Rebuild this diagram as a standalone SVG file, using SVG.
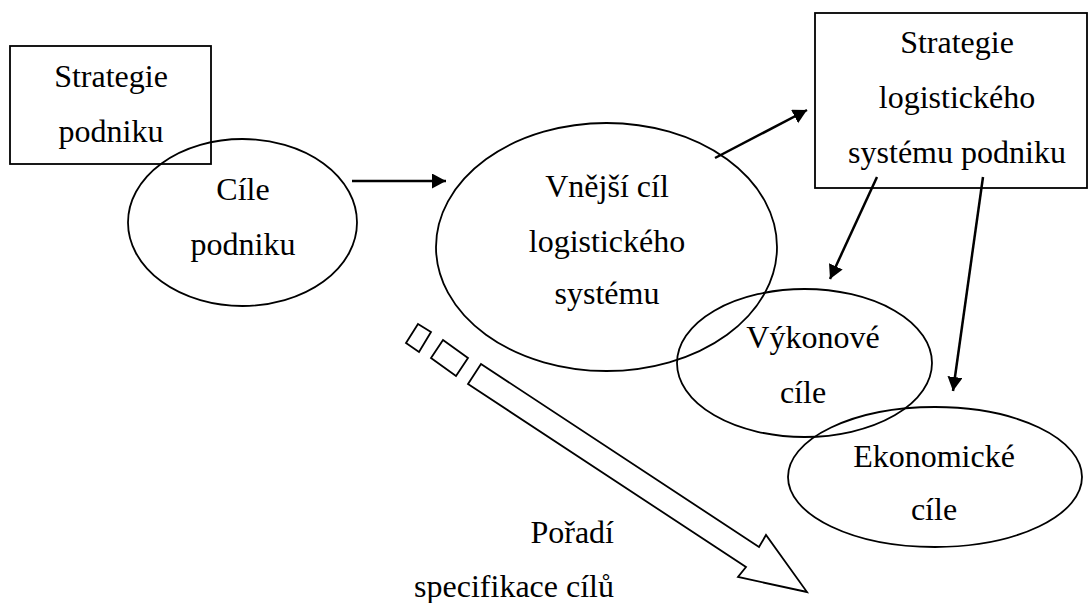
<svg xmlns="http://www.w3.org/2000/svg" width="1090" height="603" viewBox="0 0 1090 603">
<style>
.s{fill:none;stroke:#000;stroke-width:1.8}
.w{fill:#fff;stroke:#000;stroke-width:1.8}
.t{font-family:"Liberation Serif","Times New Roman",serif;font-size:32px;fill:#000;text-anchor:middle}
.c{stroke:#000;stroke-width:2.5;fill:none;marker-end:url(#ah)}
</style>
<defs>
<marker id="ah" markerUnits="userSpaceOnUse" markerWidth="16" markerHeight="16" refX="14" refY="7.5" orient="auto">
<path d="M0,0 L14,7.5 L0,15 z" fill="#000"/>
</marker>
</defs>
<rect width="1090" height="603" fill="#fff"/>
<g id="strategie-podniku">
<rect class="s" x="10" y="46" width="201" height="118"/>
<text class="t" x="111" y="87">Strategie</text>
<text class="t" x="111" y="142">podniku</text>
</g>
<g id="cile-podniku">
<ellipse class="s" cx="242.5" cy="222.5" rx="114.5" ry="83.5"/>
<text class="t" x="243" y="200">Cíle</text>
<text class="t" x="243" y="255">podniku</text>
</g>
<g id="vnejsi-cil">
<ellipse class="s" cx="606.5" cy="247" rx="170.5" ry="124"/>
<text class="t" x="607" y="197">Vnější cíl</text>
<text class="t" x="607" y="252">logistického</text>
<text class="t" x="607" y="304">systému</text>
</g>
<g id="strategie-log">
<rect class="s" x="815" y="13" width="272" height="175"/>
<text class="t" x="957" y="53">Strategie</text>
<text class="t" x="957" y="108">logistického</text>
<text class="t" x="957" y="163">systému podniku</text>
</g>
<g id="vykonove-cile">
<ellipse class="s" cx="804.5" cy="363" rx="127.5" ry="74"/>
<text class="t" x="813" y="348">Výkonové</text>
<text class="t" x="803" y="403">cíle</text>
</g>
<g id="ekonomicke-cile">
<ellipse class="s" cx="935" cy="477" rx="147" ry="70"/>
<text class="t" x="934" y="467">Ekonomické</text>
<text class="t" x="934" y="520">cíle</text>
</g>
<g id="poradi">
<polygon class="s" points="418,324 431,332 419,352 406,343"/>
<polygon class="s" points="443,340 468,358 456,376 431,358"/>
<polygon class="s" points="481,364 759,547 766,535 807,592 738,577 746,567 468,384"/>
<text class="t" x="614" y="543" style="text-anchor:end">Pořadí</text>
<text class="t" x="614" y="597" style="text-anchor:end">specifikace cílů</text>
</g>
<g id="connectors">
<line class="c" x1="352" y1="181" x2="446" y2="181"/>
<line class="c" x1="715" y1="158" x2="807" y2="110"/>
<line class="c" x1="877" y1="177" x2="830" y2="279"/>
<line class="c" x1="983" y1="177" x2="953" y2="391"/>
</g>
</svg>
